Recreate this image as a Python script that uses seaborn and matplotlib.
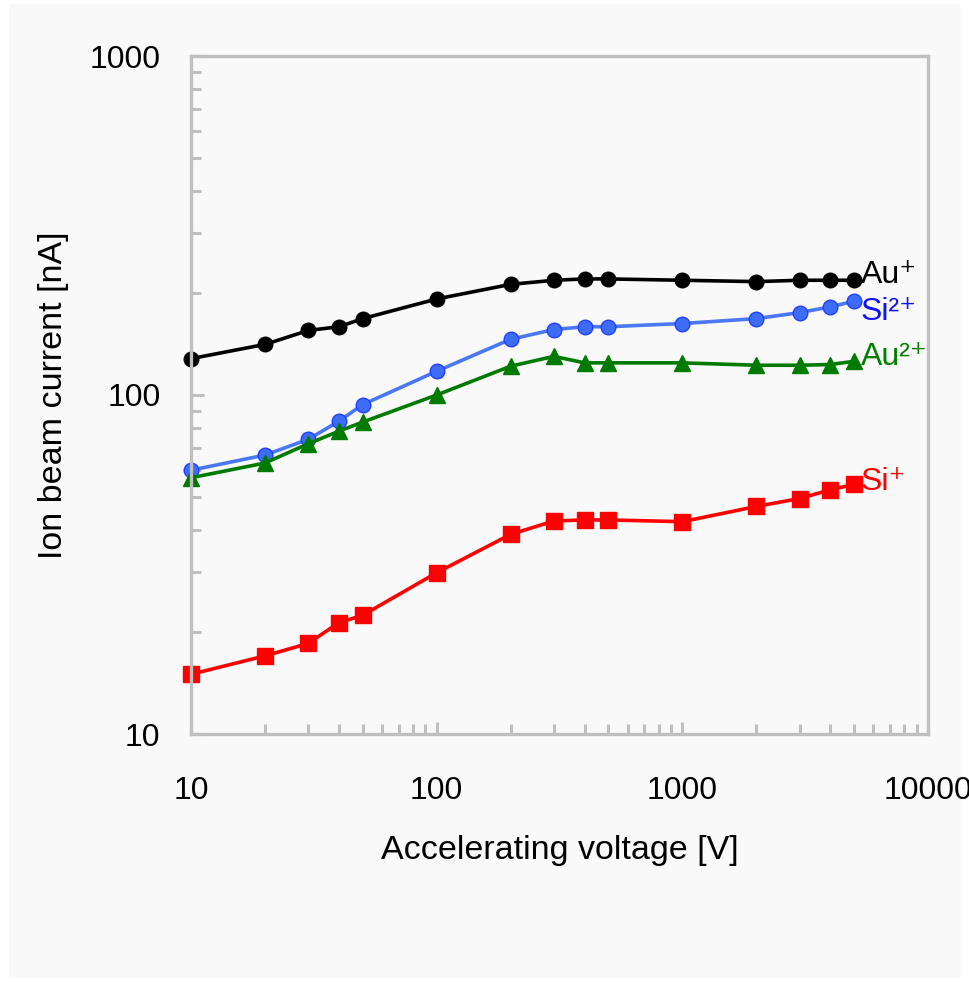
import numpy as np
import pandas as pd
import matplotlib
matplotlib.use("Agg")
import matplotlib.pyplot as plt
import matplotlib.ticker as mticker
import seaborn as sns

# ---- data ----
voltage = [10, 20, 30, 40, 50, 100, 200, 300, 400, 500, 1000, 2000, 3000, 4000, 5000]
au1 = [128, 141, 155, 159, 168, 192, 212, 218, 220, 220, 218, 216, 218, 218, 218]
si2 = [60, 66.5, 74, 83.7, 93.7, 117.5, 146, 156, 159, 159, 162.5, 168, 175, 182, 189]
au2 = [57, 63, 71.8, 78.2, 83.2, 100, 121.6, 130, 124.4, 124.4, 124.4, 122.4, 122.4, 123, 125.7]
si1 = [15.0, 17.0, 18.5, 21.3, 22.4, 29.9, 38.8, 42.5, 42.8, 42.8, 42.3, 46.9, 49.5, 52.5, 54.5]
series_labels = ["Au\u207a", "Si\u00b2\u207a", "Au\u00b2\u207a", "Si\u207a"]
x_ticks = [10, 100, 1000, 10000]
x_ticklabels = ["10", "100", "1000", "10000"]
y_ticks = [10, 100, 1000]
y_ticklabels = ["10", "100", "1000"]
x_title = "Accelerating voltage [V]"
y_title = "Ion beam current [nA]"

sns.set_style("white")
plt.rcParams["font.family"] = ["Liberation Sans", "DejaVu Sans"]
plt.rcParams["text.color"] = "black"
plt.rcParams["axes.labelcolor"] = "black"

bg = "#f9f9f9"
fig = plt.figure(figsize=(9.7, 9.82), dpi=100, facecolor="white")
fig.patches.append(plt.Rectangle((9 / 970, 0.004), 1 - 18 / 970, 0.992, transform=fig.transFigure,
                                 facecolor=bg, edgecolor="none", zorder=-10))
ax = fig.add_axes([191 / 970, 1 - 734 / 982, (928 - 191) / 970, (734 - 56) / 982])
ax.set_facecolor(bg)

df = pd.DataFrame({"V": voltage, "Au+": au1, "Si2+": si2, "Au2+": au2, "Si+": si1})

styles = [
    ("Au+", dict(color="black", marker="o", markersize=10.5, markerfacecolor="black", markeredgecolor="black"), "black", (5, 4)),
    ("Si2+", dict(color="#4a78f5", marker="o", markersize=10.5, markerfacecolor="#3d6cf6", markeredgecolor="#2040ff"), "#1010ff", (5, -8)),
    ("Au2+", dict(color="#007a00", marker="^", markersize=11.5, markerfacecolor="#007a00", markeredgecolor="#007a00"), "#008000", (5, 3)),
    ("Si+", dict(color="#ff0000", marker="s", markersize=11, markerfacecolor="#ff0000", markeredgecolor="#ff0000"), "#ff0000", (5, 2)),
]

for (col, kw, tcolor, off), lab in zip(styles, series_labels):
    sns.lineplot(data=df, x="V", y=col, ax=ax, linewidth=2.6, clip_on=False,
                 markeredgewidth=1, estimator=None, **kw)
    ax.annotate(lab, xy=(df["V"].iloc[-1], df[col].iloc[-1]), xytext=off,
                textcoords="offset points", ha="left", va="center",
                fontsize=23, color=tcolor)

ax.set_xscale("log")
ax.set_yscale("log")
ax.set_xlim(10, 10000)
ax.set_ylim(10, 1000)
ax.set_xticks(x_ticks, labels=x_ticklabels)
ax.set_yticks(y_ticks, labels=y_ticklabels)
ax.xaxis.set_minor_locator(mticker.LogLocator(base=10, subs=np.arange(2, 10)))
ax.yaxis.set_minor_locator(mticker.LogLocator(base=10, subs=np.arange(2, 10)))
ax.xaxis.set_minor_formatter(mticker.NullFormatter())
ax.yaxis.set_minor_formatter(mticker.NullFormatter())

spine_c = "#bfbfbf"
for s in ax.spines.values():
    s.set_visible(True)
    s.set_color(spine_c)
    s.set_linewidth(2.4)
ax.tick_params(which="both", direction="in", color=spine_c, width=2.2,
               bottom=True, left=True, top=False, right=False, labelsize=23, labelcolor="black")
ax.tick_params(which="major", length=9)
ax.tick_params(which="minor", length=7)
ax.tick_params(axis="x", pad=30)
ax.tick_params(axis="y", pad=22)

ax.set_xlabel(x_title, fontsize=24.5, labelpad=21, color="black")
ax.set_ylabel(y_title, fontsize=24.5, labelpad=15, color="black")

fig.savefig("out.png", dpi=100, facecolor="white")
